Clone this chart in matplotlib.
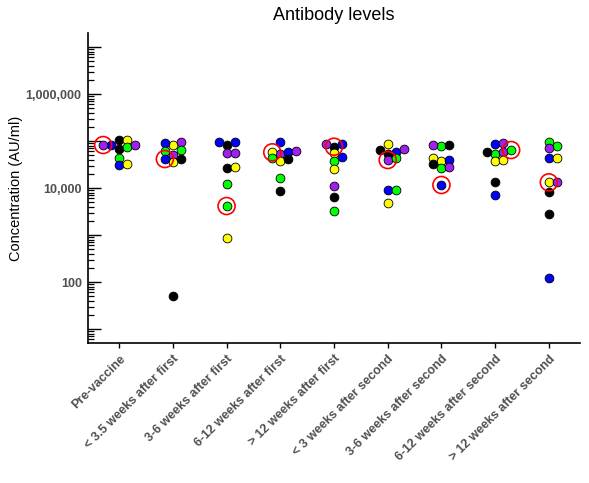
import matplotlib
matplotlib.use("Agg")
import matplotlib.pyplot as plt
from matplotlib.ticker import FixedLocator, FuncFormatter, LogLocator, NullFormatter
import numpy as np

plt.rcParams['font.family'] = ['Liberation Sans', 'DejaVu Sans']

categories = ["Pre-vaccine", "< 3.5 weeks after first", "3-6 weeks after first",
              "6-12 weeks after first", "> 12 weeks after first", "< 3 weeks after second",
              "3-6 weeks after second", "6-12 weeks after second", "> 12 weeks after second"]

# subject codes per point (K black, Y yellow, G green, B blue, P purple)
subj0 = ["K", "Y", "K", "G", "B", "P", "P", "G", "B", "Y"]
vals0 = [105000, 105000, 66600, 75600, 82200, 82200, 82200, 42800, 30900, 32400]
subj1 = ["Y", "P", "B", "P", "Y", "G", "G", "K", "B", "K"]
vals1 = [82200, 95200, 92000, 50400, 35700, 64400, 61300, 40800, 41400, 50.4]
subj2 = ["K", "B", "B", "P", "P", "K", "Y", "G", "G", "Y"]
vals2 = [82200, 96600, 96600, 54800, 54800, 27000, 28400, 12200, 4140, 877]
subj3 = ["B", "P", "Y", "B", "K", "Y", "G", "P", "G", "K"]
vals3 = [96600, 52900, 37500, 57500, 41400, 57500, 42800, 62200, 16600, 8630]
subj4 = ["K", "B", "P", "Y", "B", "G", "Y", "P", "K", "G"]
vals4 = [75600, 85100, 85100, 54800, 45000, 37500, 25400, 11200, 6340, 3240]
subj5 = ["Y", "K", "B", "K", "P", "P", "G", "B", "G", "Y"]
vals5 = [85100, 52100, 57500, 64400, 66600, 39400, 42800, 9070, 9070, 4720]
subj6 = ["G", "K", "P", "Y", "B", "Y", "K", "G", "P", "B"]
vals6 = [78300, 82200, 82200, 37500, 39400, 42800, 32400, 26300, 28400, 11600]
subj7 = ["B", "P", "G", "P", "K", "G", "Y", "Y", "K", "B"]
vals7 = [85100, 92000, 52100, 57500, 57500, 64400, 38100, 39400, 13200, 7100]
subj8 = ["G", "G", "P", "B", "Y", "Y", "P", "K", "K", "B"]
vals8 = [96600, 78300, 69900, 42800, 42800, 13200, 13200, 8340, 2760, 120]

# index of the circled point within each category
highlight = [6, 8, 8, 5, 0, 5, 9, 5, 5]

subjects = [subj0, subj1, subj2, subj3, subj4, subj5, subj6, subj7, subj8]
values = [vals0, vals1, vals2, vals3, vals4, vals5, vals6, vals7, vals8]

color_map = {"K": "#000000", "Y": "#FFFF00", "G": "#00FF00", "B": "#0000FF", "P": "#A020F0"}

fig = plt.figure(figsize=(5.89, 4.83), dpi=100)
ax = fig.add_axes([88/589, 1-343/483, (580-88)/589, (343-33)/483])
ax.set_yscale('log')
ax.set_xlim(-0.58, 8.58)
ax.set_ylim(5.04, 1.99e7)

fig.canvas.draw()
trans = ax.transData
px_per_cat = trans.transform((1, 1))[0] - trans.transform((0, 1))[0]
slot_px = 8.0
gap_px = 5.3
order = [0, 1, -1, 2, -2, 3, -3, 4, -4, 5, -5]


def swarm_slots(vals):
    ys = [trans.transform((0, v))[1] for v in vals]
    placed = {}
    slots = []
    for y in ys:
        for s in order:
            if all(abs(y - yy) >= gap_px for yy in placed.get(s, [])):
                placed.setdefault(s, []).append(y)
                slots.append(s)
                break
    return slots


for i, (subj, vals) in enumerate(zip(subjects, values)):
    slots = swarm_slots(vals)
    xs = [i + s * slot_px / px_per_cat for s in slots]
    for x, v, c in zip(xs, vals, subj):
        ax.scatter([x], [v], s=40, c=color_map[c], edgecolors='black', linewidths=0.6, zorder=3)
    h = highlight[i]
    ax.scatter([xs[h]], [vals[h]], s=150, facecolors='none', edgecolors='red', linewidths=1.2, zorder=4)

ax.spines['top'].set_visible(False)
ax.spines['right'].set_visible(False)
ax.spines['left'].set_linewidth(1.2)
ax.spines['bottom'].set_linewidth(1.2)

ax.yaxis.set_major_locator(FixedLocator([10.0**k for k in range(0, 9)]))
ax.yaxis.set_minor_locator(LogLocator(base=10, subs=np.arange(2, 10), numticks=20))
ax.yaxis.set_minor_formatter(NullFormatter())


def yfmt(v, pos):
    k = int(round(np.log10(v)))
    if k in (2, 4, 6):
        return f"{int(round(v)):,}"
    return ""


ax.yaxis.set_major_formatter(FuncFormatter(yfmt))
ax.tick_params(axis='y', which='major', direction='in', length=9, width=1.0, pad=4.5,
               labelsize=9, labelcolor='#505050')
ax.tick_params(axis='y', which='minor', direction='in', length=4, width=0.9)
for lab in ax.get_yticklabels():
    lab.set_fontweight('bold')

ax.set_xticks(range(len(categories)))
ax.set_xticklabels(categories, rotation=45, ha='right', rotation_mode='anchor',
                   fontsize=9, fontweight='bold', color='#505050')
ax.tick_params(axis='x', direction='out', length=3.5, width=1.0, pad=3.5)

ax.set_ylabel("Concentration (AU/ml)", fontsize=10.5, labelpad=2)
ax.set_title("Antibody levels", fontsize=13, pad=9)

fig.savefig("out.png", dpi=100)
